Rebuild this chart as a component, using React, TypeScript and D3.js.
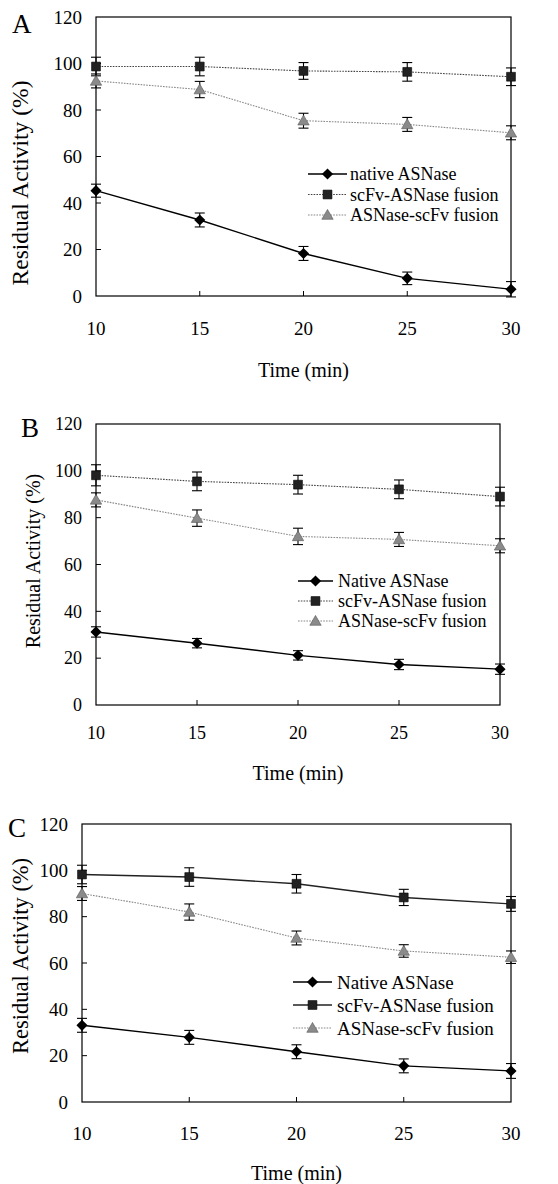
import React from "react";
import * as d3 from "d3";

// time points (min) and tick labels shared by all three panels
const times = [10, 15, 20, 25, 30];
const yTicks = [0, 20, 40, 60, 80, 100, 120];

// panel A
const nativeA = [45.3, 32.7, 18.3, 7.6, 2.9];
const nativeErrA = [2.8, 3, 3, 2.7, 3.3];
const scfvAsnA = [98.7, 98.7, 96.8, 96.4, 94.3];
const scfvAsnErrA = [4, 4, 3.6, 4, 3.8];
const asnScfvA = [92.5, 88.8, 75.4, 73.8, 70.2];
const asnScfvErrA = [3, 3.5, 3.2, 3, 3];
const legendA = ["native ASNase", "scFv-ASNase fusion", "ASNase-scFv fusion"];

// panel B
const nativeB = [31.2, 26.4, 21.2, 17.3, 15.3];
const nativeErrB = [2.2, 2, 2, 2.2, 2.2];
const scfvAsnB = [98.1, 95.5, 94.1, 92.1, 89];
const scfvAsnErrB = [4.5, 4, 4, 4, 4];
const asnScfvB = [87.6, 79.8, 72, 70.7, 68];
const asnScfvErrB = [3, 3.5, 3.5, 3, 3];
const legendB = ["Native ASNase", "scFv-ASNase fusion", "ASNase-scFv fusion"];

// panel C
const nativeC = [33.1, 27.9, 21.7, 15.6, 13.4];
const nativeErrC = [3, 3, 3, 3, 3.2];
const scfvAsnC = [98.2, 97.1, 94.2, 88.3, 85.5];
const scfvAsnErrC = [4, 4, 4, 3.5, 3.2];
const asnScfvC = [90, 82, 70.8, 65.2, 62.5];
const asnScfvErrC = [3, 3.5, 3, 2.7, 2.7];
const legendC = ["Native ASNase", "scFv-ASNase fusion", "ASNase-scFv fusion"];

const serif = "Liberation Serif";

type Series = { values: number[]; errs: number[] };

type PanelProps = {
  letter: string;
  native: Series;
  fusion1: Series;
  fusion2: Series;
  legend: string[];
  box: { left: number; right: number; top: number; bottom: number };
  tickFont: number;
  xLabelY: number;
  titleY: number;
  yTitle: { x: number; y: number; size: number };
  letterPos: { x: number; y: number };
  leg: { x1: number; x2: number; tx: number; y0: number; dy: number; size: number };
  solidFusion1?: boolean;
};

function T(props: any) {
  const { size, children, ...rest } = props;
  return (
    <text {...rest} style={{ fontFamily: serif, fontSize: size + "px", fontWeight: 400 }}>
      {children}
    </text>
  );
}

function Marker({ kind, x, y }: { kind: string; x: number; y: number }) {
  if (kind === "diamond") {
    const p = d3.symbol(d3.symbolSquare, 62)();
    return <path d={p || ""} transform={`translate(${x},${y}) rotate(45)`} fill="#000" />;
  }
  if (kind === "square") {
    const p = d3.symbol(d3.symbolSquare, 78)();
    return <path d={p || ""} transform={`translate(${x},${y})`} fill="#222" stroke="#000" strokeWidth={0.6} />;
  }
  const p = d3.symbol(d3.symbolTriangle, 56)();
  return <path d={p || ""} transform={`translate(${x},${y + 1})`} fill="#8a8a8a" stroke="#555" strokeWidth={0.6} />;
}

function Panel(props: PanelProps) {
  const { box } = props;
  const x = d3.scaleLinear().domain([10, 30]).range([box.left, box.right]);
  const y = d3.scaleLinear().domain([0, 120]).range([box.bottom, box.top]);
  const line = d3
    .line<number>()
    .x((_, i) => x(times[i]))
    .y((v) => y(v));

  const series = [
    { s: props.native, kind: "diamond", stroke: "#000", width: 1.4, dash: undefined as string | undefined },
    {
      s: props.fusion1,
      kind: "square",
      stroke: props.solidFusion1 ? "#222" : "#444",
      width: props.solidFusion1 ? 1.4 : 1.1,
      dash: props.solidFusion1 ? undefined : "1.6,1.2",
    },
    { s: props.fusion2, kind: "triangle", stroke: "#888", width: 1.1, dash: "1.6,1.2" },
  ];

  return (
    <g>
      <T x={props.letterPos.x} y={props.letterPos.y} size={27}>
        {props.letter}
      </T>
      <rect
        x={box.left}
        y={box.top}
        width={box.right - box.left}
        height={box.bottom - box.top}
        fill="none"
        stroke="#000"
        strokeWidth={1.2}
      />
      {yTicks.map((t) => (
        <g key={"y" + t}>
          {t > 0 && t < 120 && <line x1={box.left} x2={box.left + 5} y1={y(t)} y2={y(t)} stroke="#000" strokeWidth={1} />}
          <T x={box.left - 14} y={y(t)} dy="0.35em" textAnchor="end" size={props.tickFont}>
            {t}
          </T>
        </g>
      ))}
      {times.map((t) => (
        <g key={"x" + t}>
          {t > 10 && t < 30 && <line x1={x(t)} x2={x(t)} y1={box.bottom} y2={box.bottom - 5} stroke="#000" strokeWidth={1} />}
          <T x={x(t)} y={props.xLabelY} dy="0.35em" textAnchor="middle" size={props.tickFont}>
            {t}
          </T>
        </g>
      ))}
      <T x={(box.left + box.right) / 2} y={props.titleY} dy="0.35em" textAnchor="middle" size={20}>
        Time (min)
      </T>
      <T
        transform={`translate(${props.yTitle.x},${props.yTitle.y}) rotate(-90)`}
        dy="0.35em"
        textAnchor="middle"
        size={props.yTitle.size}
      >
        Residual Activity (%)
      </T>

      {series.map((sr, k) => (
        <g key={"s" + k}>
          <path d={line(sr.s.values) || ""} fill="none" stroke={sr.stroke} strokeWidth={sr.width} strokeDasharray={sr.dash} />
          {sr.s.values.map((v, i) => {
            const cx = x(times[i]);
            const hi = y(v + sr.s.errs[i]);
            const lo = y(v - sr.s.errs[i]);
            return (
              <g key={i}>
                <line x1={cx} x2={cx} y1={hi} y2={lo} stroke="#000" strokeWidth={1.1} />
                <line x1={cx - 5} x2={cx + 5} y1={hi} y2={hi} stroke="#000" strokeWidth={1.1} />
                <line x1={cx - 5} x2={cx + 5} y1={lo} y2={lo} stroke="#000" strokeWidth={1.1} />
                <Marker kind={sr.kind} x={cx} y={y(v)} />
              </g>
            );
          })}
        </g>
      ))}

      {series.map((sr, k) => {
        const ly = props.leg.y0 + k * props.leg.dy;
        return (
          <g key={"l" + k}>
            <line
              x1={props.leg.x1}
              x2={props.leg.x2}
              y1={ly}
              y2={ly}
              stroke={sr.stroke}
              strokeWidth={sr.width}
              strokeDasharray={sr.dash}
            />
            <Marker kind={sr.kind} x={(props.leg.x1 + props.leg.x2) / 2} y={ly} />
            <T x={props.leg.tx} y={ly} dy="0.35em" size={props.leg.size}>
              {props.legend[k]}
            </T>
          </g>
        );
      })}
    </g>
  );
}

export default function App() {
  return (
    <svg
      width={558}
      height={1184}
      style={{ position: "absolute", left: 0, top: 0, background: "#fff" }}
    >
      <rect width={558} height={1184} fill="#fff" />
      <Panel
        letter="A"
        native={{ values: nativeA, errs: nativeErrA }}
        fusion1={{ values: scfvAsnA, errs: scfvAsnErrA }}
        fusion2={{ values: asnScfvA, errs: asnScfvErrA }}
        legend={legendA}
        box={{ left: 96, right: 511, top: 17, bottom: 296 }}
        tickFont={19}
        xLabelY={328}
        titleY={370}
        yTitle={{ x: 20, y: 183, size: 23.5 }}
        letterPos={{ x: 12, y: 33 }}
        leg={{ x1: 308, x2: 347, tx: 350, y0: 174, dy: 20.5, size: 18 }}
      />
      <Panel
        letter="B"
        native={{ values: nativeB, errs: nativeErrB }}
        fusion1={{ values: scfvAsnB, errs: scfvAsnErrB }}
        fusion2={{ values: asnScfvB, errs: asnScfvErrB }}
        legend={legendB}
        box={{ left: 96, right: 500, top: 424, bottom: 705 }}
        tickFont={18}
        xLabelY={733}
        titleY={773}
        yTitle={{ x: 33, y: 561, size: 20 }}
        letterPos={{ x: 21, y: 437 }}
        leg={{ x1: 298, x2: 333, tx: 338, y0: 581, dy: 20, size: 18 }}
      />
      <Panel
        letter="C"
        native={{ values: nativeC, errs: nativeErrC }}
        fusion1={{ values: scfvAsnC, errs: scfvAsnErrC }}
        fusion2={{ values: asnScfvC, errs: asnScfvErrC }}
        legend={legendC}
        box={{ left: 82, right: 511, top: 824, bottom: 1102 }}
        tickFont={19}
        xLabelY={1133}
        titleY={1173}
        yTitle={{ x: 20, y: 956, size: 22.5 }}
        letterPos={{ x: 8, y: 837 }}
        leg={{ x1: 293, x2: 332, tx: 337, y0: 982, dy: 23, size: 19 }}
        solidFusion1
      />
    </svg>
  );
}
